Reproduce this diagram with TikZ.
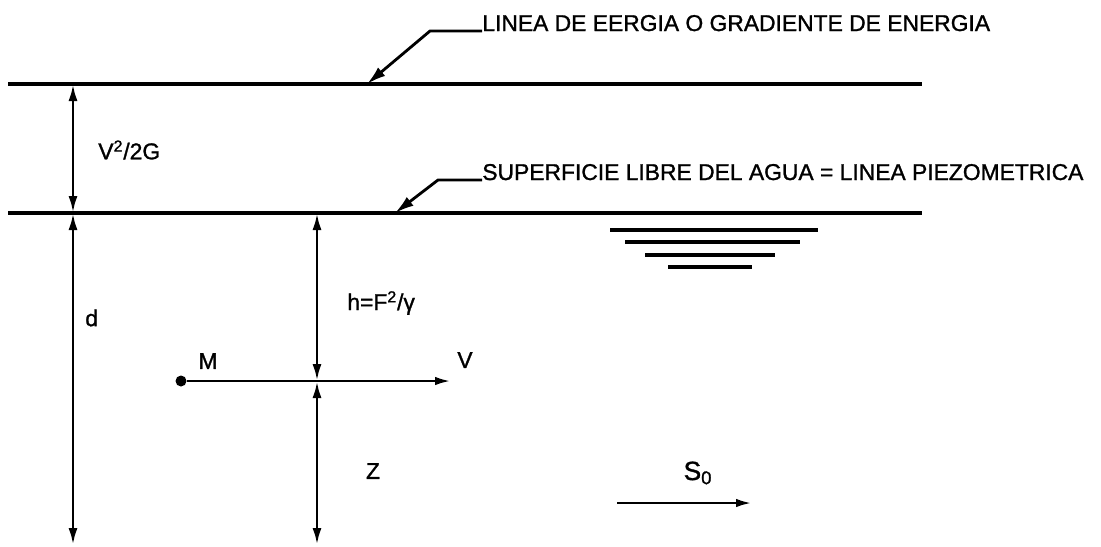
\documentclass[tikz,border=0pt]{standalone}
\usepackage{fontspec}
\setmainfont{Liberation Sans}[FakeBold=1.2]
\usetikzlibrary{arrows.meta, positioning, calc}

\begin{document}
\begin{tikzpicture}[x=0.2mm, y=-0.2mm,
    level/.style={line width=1.8pt},
    dim/.style={{Latex[length=3.4mm,width=1.8mm]}-{Latex[length=3.4mm,width=1.8mm]}, line width=1.6pt},
    arrow/.style={-{Latex[length=3.2mm,width=1.7mm]}, line width=1.6pt},
    leader/.style={-{Latex[length=3.8mm,width=2.2mm]}, line width=1.6pt},
    label/.style={font=\fontsize{13}{15}\selectfont, inner sep=0pt},
    water/.style={line width=1.8pt}
]
\useasboundingbox (0,0) rectangle (1101,546);

\coordinate (egl west) at (8,84);
\coordinate (egl east) at (922,84);
\coordinate (ws west) at (8,213);
\coordinate (ws east) at (922,213);
\draw[level] (egl west) -- (egl east);
\draw[level] (ws west) -- (ws east);

\node[label, anchor=base west] (energia) at (482,31) {LINEA DE EERGIA O GRADIENTE DE ENERGIA};
\node[label, anchor=base west] (superficie) at (482,180) {SUPERFICIE LIBRE DEL AGUA = LINEA PIEZOMETRICA};
\coordinate (egl tip) at (367,84);
\coordinate (ws tip) at (395,213);
\draw[leader] (energia.base west) -- ++(-52,0) -- (egl tip);
\draw[leader] (superficie.base west) -- ++(-44,0) -- (ws tip);

\coordinate (d top) at (73,84);
\coordinate (d mid) at (73,213);
\coordinate (d bot) at (73,545);
\draw[dim] (d top) -- (d mid);
\draw[dim] (d mid) -- (d bot);
\node[label, anchor=west] (v2g) at (98,150) {V\textsuperscript{2}/2G};
\node[label, anchor=west] (dlab) at (85,318) {d};

\coordinate (h top) at (317,213);
\coordinate (h bot) at (317,381);
\coordinate (z bot) at (317,545);
\draw[dim] (h top) -- (h bot);
\draw[dim] (h bot) -- (z bot);
\node[label, anchor=west] (hlab) at (347,303) {h=F\textsuperscript{2}/γ};
\node[label] (zlab) at (373,471) {Z};

\node[circle, fill, inner sep=0pt, minimum size=2.2mm] (M) at (181,381) {};
\coordinate (v tip) at (451,381);
\draw[arrow] (M) -- (v tip);
\node[label] (mlab) at (208,361) {M};
\node[label] (vlab) at (465,360) {V};

\coordinate (s west) at (617,503);
\coordinate (s east) at (752,503);
\draw[arrow] (s west) -- (s east);
\node[label, font=\fontsize{15}{17}\selectfont] (slab) at (698,473) {S\textsubscript{0}};

\foreach \y/\a/\b in {230/610/818, 242/625/800, 255/645/775, 267/668/752}
  \draw[water] (\a,\y) -- (\b,\y);
\end{tikzpicture}
\end{document}
